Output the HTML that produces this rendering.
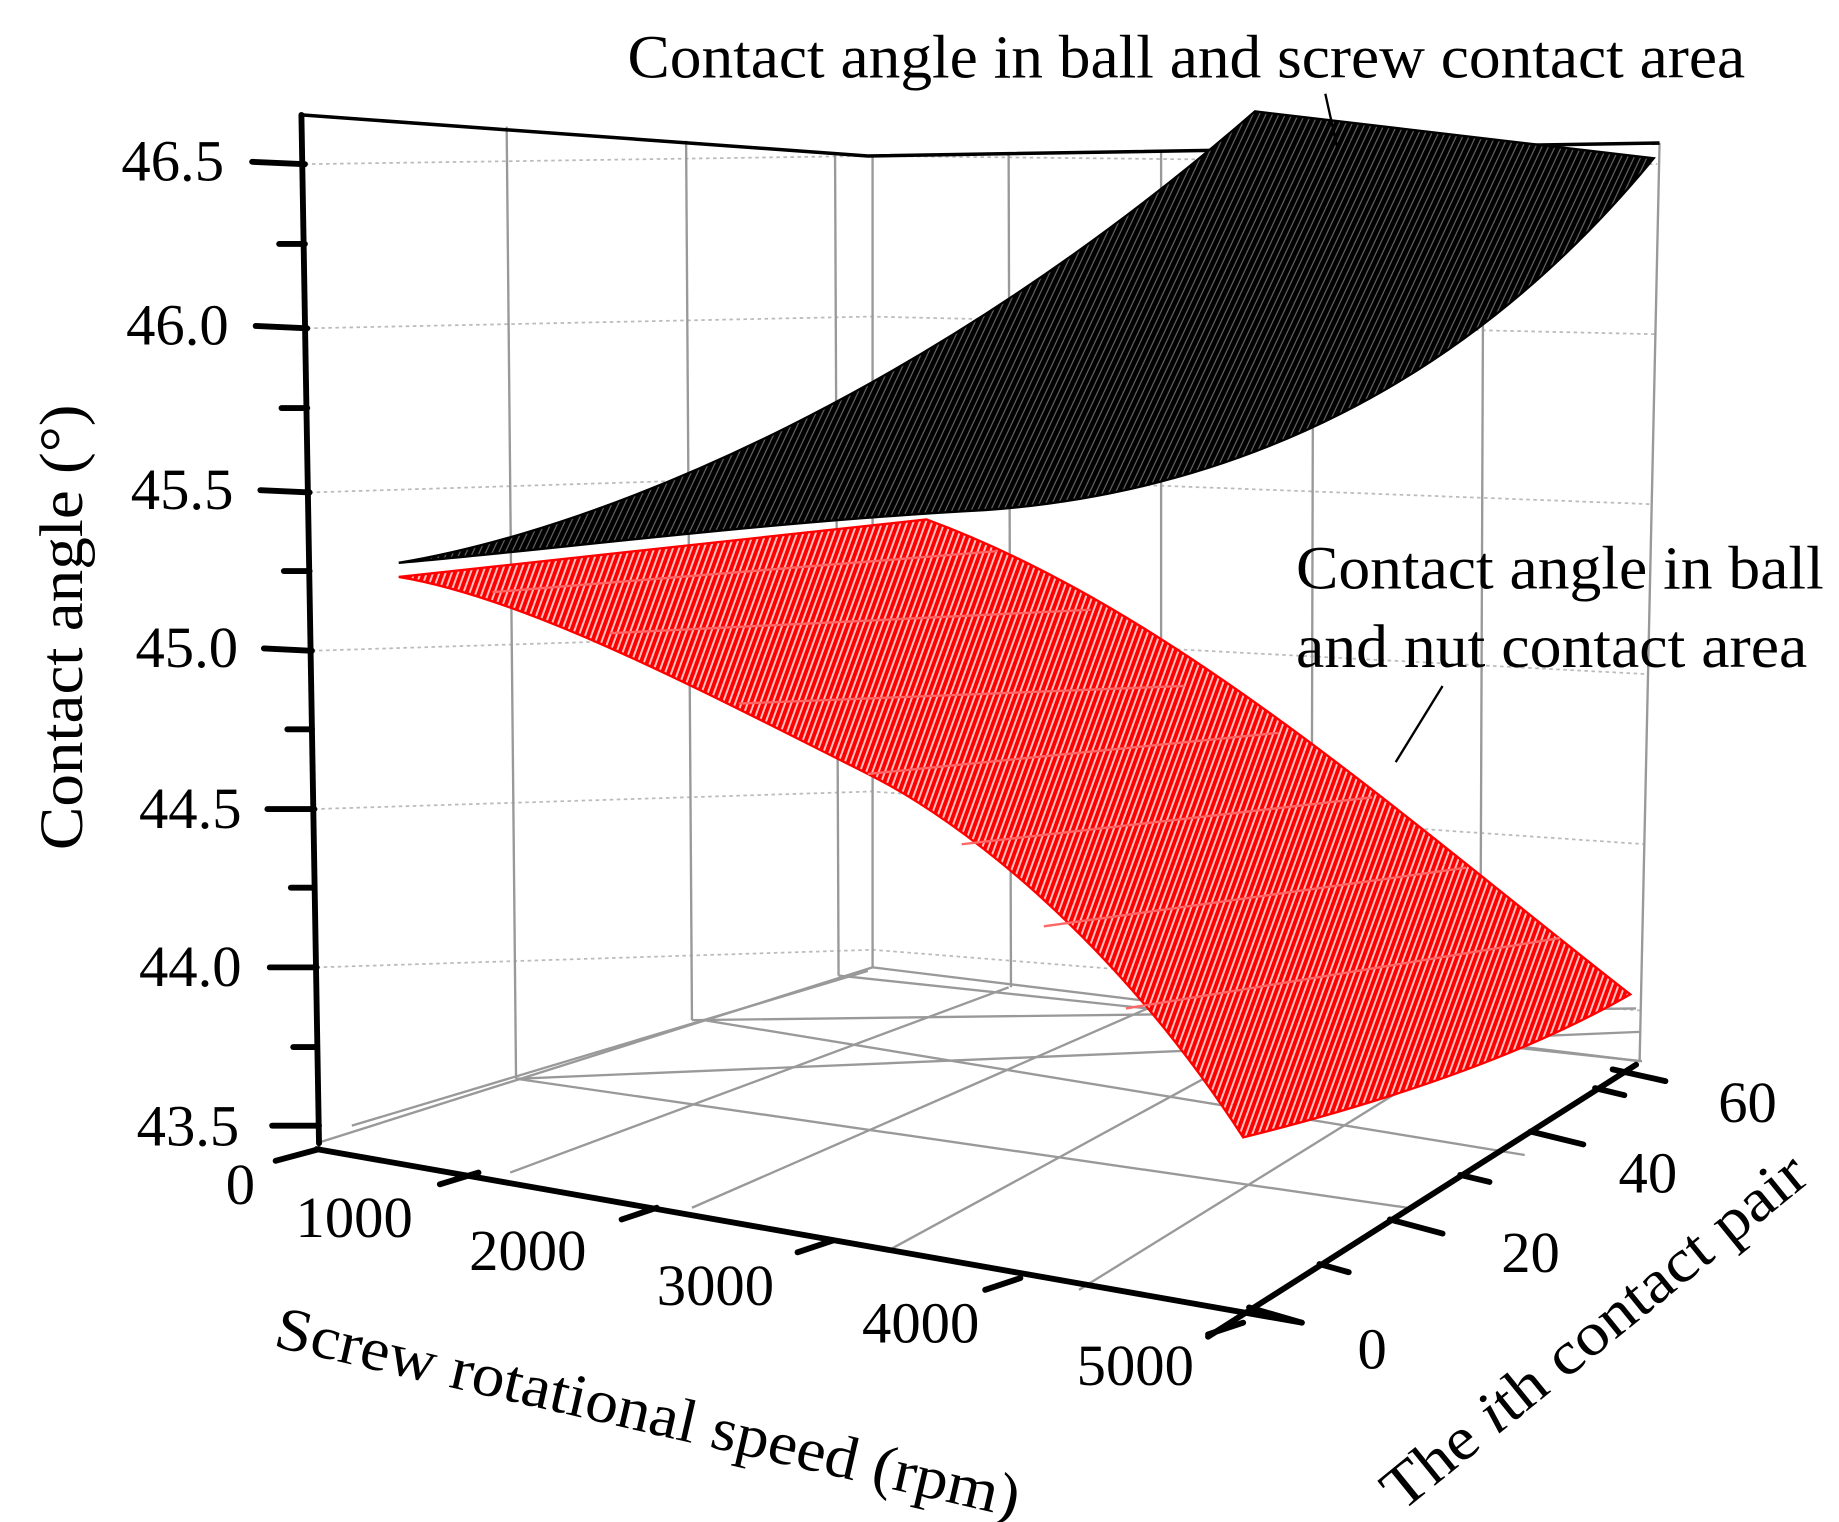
<!DOCTYPE html>
<html><head><meta charset="utf-8"><style>
html,body{margin:0;padding:0;background:#fff;}
svg{display:block;}
text{font-family:"Liberation Serif",serif;fill:#000;}
</style></head><body>
<svg width="1839" height="1522" viewBox="0 0 1568 1298" preserveAspectRatio="none" xmlns="http://www.w3.org/2000/svg">
<defs>
<pattern id="rh" width="5" height="5" patternUnits="userSpaceOnUse" patternTransform="rotate(20)">
<rect width="5" height="5" fill="#ff0000"/><rect x="3.3" width="1.7" height="5" fill="#ffc0c0"/>
</pattern>
<pattern id="bh" width="5" height="5" patternUnits="userSpaceOnUse" patternTransform="rotate(25)">
<rect width="5" height="5" fill="#000"/><rect x="4" width="1" height="5" fill="#666"/>
</pattern>
</defs>
<g stroke="#bbb" stroke-width="1.5" stroke-dasharray="3,3" fill="none">
<path d="M260 140 L742 133 L1413 140"/>
<path d="M262 280 L742 270 L1411 285"/>
<path d="M264 420 L742 405 L1409 430"/>
<path d="M266 555 L743 540 L1406 575"/>
<path d="M268 690 L743 675 L1403 720"/>
<path d="M270 825 L744 810 L1401 862"/>
</g>
<g stroke="#999" stroke-width="2" fill="none">
<path d="M432 108 L440 920"/>
<path d="M585 120 L590 870"/>
<path d="M712 130 L715 832"/>
<path d="M860 131 L862 842"/>
<path d="M990 128 L990 855"/>
<path d="M1120 126 L1118 870"/>
<path d="M1265 124 L1262 888"/>
<path d="M744 133 L744 825"/>
<path d="M1415 122 L1398 905"/>
<path d="M440 920 L1398 880"/>
<path d="M590 870 L1395 860"/>
<path d="M270 975 L744 825 L1398 905"/>
<path d="M715 832 L1400 905"/>
<path d="M440 920 L1200 1030" />
<path d="M300 960 L740 828"/>
<path d="M435 1000 L860 842"/>
<path d="M590 1030 L990 855"/>
<path d="M760 1065 L1118 870"/>
<path d="M920 1100 L1262 888"/>
<path d="M600 870 L1300 985"/>
</g>
<path d="M257 98 L740 133 L1415 122" stroke="#000" stroke-width="3" fill="none"/>
<path d="M340 480 C520 450 800 330 1070 95 L1410 135 C1250 330 1050 420 840 435 C650 445 460 470 340 480 Z" fill="url(#bh)" stroke="#000" stroke-width="2"/>
<path d="M340 492 L790 443 C1000 520 1200 700 1390 848 C1300 900 1180 940 1060 970 C950 800 820 700 740 660 C600 590 450 510 340 492 Z" fill="url(#rh)" stroke="#f00" stroke-width="2"/>
<g stroke="#ff6666" stroke-width="2" fill="none">
<path d="M420 505 L850 470"/><path d="M520 540 L930 520"/><path d="M630 600 L1010 585"/><path d="M740 660 L1090 625"/><path d="M820 720 L1170 680"/><path d="M890 790 L1250 740"/><path d="M960 860 L1330 800"/>
</g>
<g stroke="#000" stroke-width="5" fill="none" stroke-linecap="round">
<path d="M257 98 L272 975"/>
<path d="M270 980 L1110 1128"/>
<path d="M1030 1140 L1395 908"/>
<path d="M215 138 L260 140"/><path d="M218 278 L262 280"/><path d="M222 418 L264 420"/><path d="M225 553 L266 555"/><path d="M228 690 L268 690"/><path d="M230 825 L270 825"/><path d="M232 960 L272 960"/>
<path d="M238 208 L260 208"/><path d="M240 348 L262 348"/><path d="M242 487 L264 487"/><path d="M245 622 L266 622"/><path d="M248 757 L268 757"/><path d="M250 893 L270 893"/>
<path d="M235 990 L272 980"/><path d="M375 1010 L408 1000"/><path d="M530 1040 L560 1030"/><path d="M680 1068 L710 1058"/><path d="M840 1100 L870 1090"/><path d="M1030 1138 L1060 1128"/>
<path d="M1065 1115 L1110 1128"/><path d="M1125 1078 L1150 1085"/><path d="M1185 1040 L1230 1052"/><path d="M1245 1002 L1270 1008"/><path d="M1305 965 L1350 976"/><path d="M1360 928 L1385 934"/><path d="M1375 912 L1420 922"/>
</g>
<path d="M1130 80 L1140 125" stroke="#000" stroke-width="2"/>
<path d="M1230 585 L1190 650" stroke="#000" stroke-width="2"/>
<text x="535" y="66" font-size="52" textLength="953" lengthAdjust="spacingAndGlyphs">Contact angle in ball and screw contact area</text>
<text x="1105" y="502" font-size="52" textLength="450" lengthAdjust="spacingAndGlyphs">Contact angle in ball</text>
<text x="1105" y="569" font-size="52" textLength="436" lengthAdjust="spacingAndGlyphs">and nut contact area</text>
<g font-size="50" text-anchor="end">
<text x="191" y="154">46.5</text><text x="195" y="294">46.0</text><text x="199" y="434">45.5</text><text x="203" y="569">45.0</text><text x="206" y="706">44.5</text><text x="206" y="841">44.0</text><text x="204" y="977">43.5</text>
</g>
<text x="70" y="535" font-size="52" text-anchor="middle" textLength="380" lengthAdjust="spacingAndGlyphs" transform="rotate(-90 70 535)">Contact angle (°)</text>
<g font-size="50" text-anchor="middle">
<text x="205" y="1027">0</text>
<text x="302" y="1055">1000</text><text x="450" y="1083">2000</text><text x="610" y="1113">3000</text><text x="785" y="1145">4000</text><text x="968" y="1181">5000</text>
<text x="1490" y="957">60</text><text x="1405" y="1017">40</text><text x="1305" y="1085">20</text><text x="1170" y="1167">0</text>
</g>
<text x="232" y="1148" font-size="52" textLength="650" lengthAdjust="spacingAndGlyphs" transform="rotate(13 232 1148)">Screw rotational speed (rpm)</text>
<text x="1195" y="1290" font-size="52" textLength="450" lengthAdjust="spacingAndGlyphs" transform="rotate(-39 1195 1290)">The <tspan font-style="italic">i</tspan>th contact pair</text>
</svg>
</body></html>
